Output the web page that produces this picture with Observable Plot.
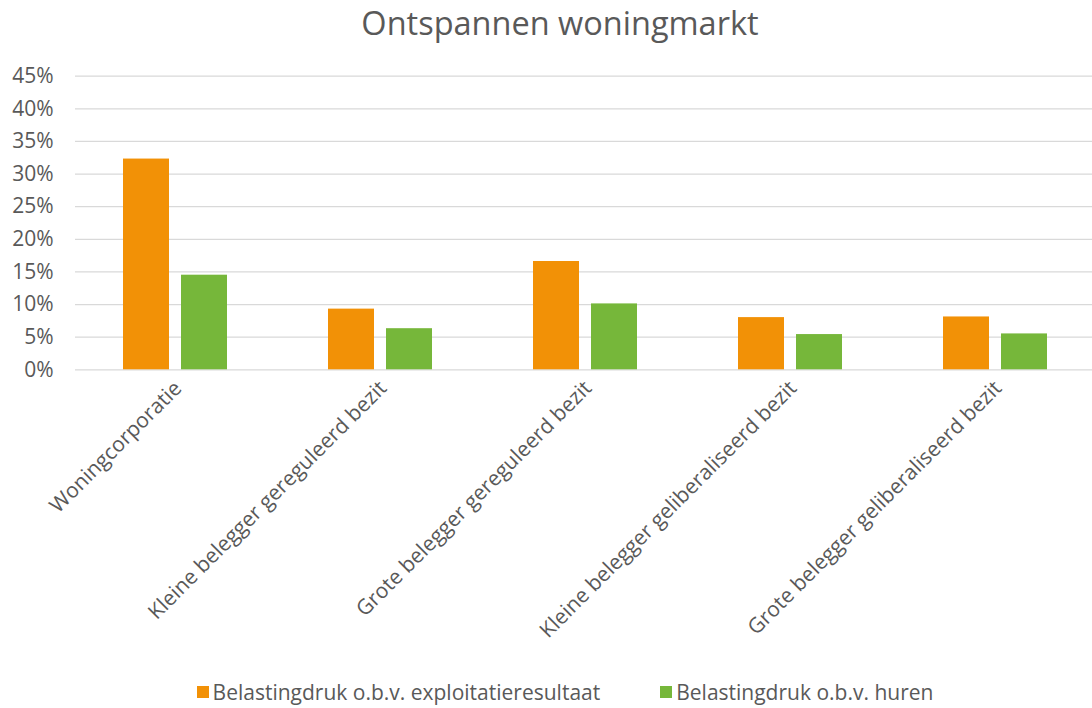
<!DOCTYPE html>
<html>
<head>
<meta charset="utf-8">
<script src="https://cdn.jsdelivr.net/npm/d3@7"></script>
<script src="https://cdn.jsdelivr.net/npm/@observablehq/plot@0.6"></script>
<style>
  html, body { margin: 0; padding: 0; background: #fff; overflow: hidden; }
  #wrap { width: 1120px; font-family: "Open Sans", sans-serif; color: #595959; }
  #title { height: 50px; line-height: 46px; font-size: 32.5px; text-align: center; }
  #legend { height: 44px; display: flex; justify-content: center; align-items: center; font-size: 21px; padding-left: 10px; }
  .item { display: flex; align-items: center; }
  .sw { width: 12px; height: 12px; margin-right: 4px; }
</style>
</head>
<body>
<div id="wrap">
  <div id="title">Ontspannen woningmarkt</div>
  <div id="chart"></div>
  <div id="legend"></div>
</div>
<script>
const categories = [
  "Woningcorporatie",
  "Kleine belegger gereguleerd bezit",
  "Grote belegger gereguleerd bezit",
  "Kleine belegger geliberaliseerd bezit",
  "Grote belegger geliberaliseerd bezit"
];
const seriesNames = ["Belastingdruk o.b.v. exploitatieresultaat", "Belastingdruk o.b.v. huren"];
const exploitatie = [0.323, 0.093, 0.166, 0.080, 0.081];
const huren = [0.145, 0.063, 0.101, 0.054, 0.055];
const yTicks = [0, 0.05, 0.10, 0.15, 0.20, 0.25, 0.30, 0.35, 0.40, 0.45];
const colors = ["#F29106", "#76B73A"];

const data = [];
categories.forEach((c, i) => {
  data.push({category: c, series: seriesNames[0], value: exploitatie[i]});
  data.push({category: c, series: seriesNames[1], value: huren[i]});
});

const chart = Plot.plot({
  width: 1120,
  height: 620,
  marginLeft: 74,
  marginRight: 20,
  marginTop: 25.7,
  marginBottom: 300.7,
  style: {fontFamily: "Open Sans, sans-serif", fontSize: "21px", color: "#595959", background: "#fff"},
  fx: {domain: categories, padding: 0, label: null, tickRotate: -45, tickSize: 0, tickPadding: 15},
  x: {domain: seriesNames, paddingInner: 0.21, paddingOuter: 0.87, align: 0.47, axis: null},
  y: {domain: [0, 0.45], ticks: yTicks, tickFormat: d3.format(".0%"), tickSize: 0, tickPadding: 22, label: null},
  color: {domain: seriesNames, range: colors},
  marks: [
    Plot.ruleY(yTicks, {stroke: "#d9d9d9", strokeWidth: 1.3}),
    Plot.barY(data, {fx: "category", x: "series", y: "value", fill: "series"})
  ]
});
document.getElementById("chart").appendChild(chart);

const legend = document.getElementById("legend");
seriesNames.forEach((s, i) => {
  const item = document.createElement("div");
  item.className = "item";
  if (i > 0) item.style.marginLeft = "60px";
  const sw = document.createElement("div");
  sw.className = "sw";
  sw.style.background = colors[i];
  const t = document.createElement("span");
  t.textContent = s;
  item.appendChild(sw);
  item.appendChild(t);
  legend.appendChild(item);
});
</script>
</body>
</html>
